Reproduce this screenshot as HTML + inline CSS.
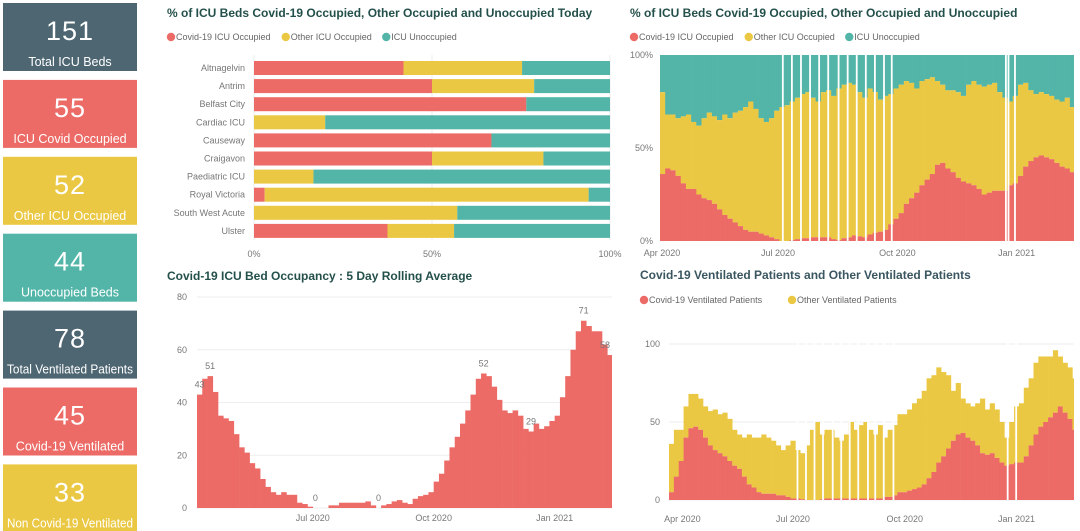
<!DOCTYPE html>
<html><head><meta charset="utf-8">
<style>
html,body{margin:0;padding:0;background:#fff;}
svg{display:block;font-family:"Liberation Sans",sans-serif;}
.t{font-weight:bold;font-size:12px;fill:#24504b;}
.lg{font-size:9px;fill:#666;}
.ax{font-size:9px;fill:#777;}
</style></head>
<body>
<svg id="s" width="1080" height="531" viewBox="0 0 1080 531">
<g id="kpis"></g>
<g id="c1"></g>
<g id="c2"></g>
<g id="c3"></g>
<g id="c4"></g>
</svg>
<script>
const RED="#ec6b66",YEL="#ebc843",TEAL="#52b5a8",SLATE="#4e6672";
// KPI data
const kpiValues=[151,55,52,44,78,45,33];
const kpiLabels=["Total ICU Beds","ICU Covid Occupied","Other ICU Occupied","Unoccupied Beds","Total Ventilated Patients","Covid-19 Ventilated","Non Covid-19 Ventilated"];
const kpiColors=[SLATE,RED,YEL,TEAL,SLATE,RED,YEL];
// Chart 1 data
const hospitals=["Altnagelvin","Antrim","Belfast City","Cardiac ICU","Causeway","Craigavon","Paediatric ICU","Royal Victoria","South West Acute","Ulster"];
const todayCovidPct=[42,50,76.5,0,66.7,50,0,3,0,37.5];
const todayOtherPct=[33.3,28.7,0,20,0,31.3,16.7,91,57.1,18.7];
const pctTicks=["0%","50%","100%"];
// Chart 2 data (4-day steps from Apr 1 2020)
const pctCovid=[36,39,38,35,31,28,28,25,23,22,20,17,14,12,10,8,6,5,5,4,3,2,1,0,0,0.5,1,1.5,1.5,2,2,2,2,1,0.5,1.5,2,3,2.5,2,3.5,4.5,5,6,9,12,15,20,23,26,30,33,36,41,42,39,37,34,32,31,30,28,25,26,27,27,27,30,31,35,40,43,45,46,45,44,42,40,39,37];
const pctOther=[44,29,30,31,36,40,36,37,43,47,47,48,54,54,59,62,66,70,66,62,61,64,69,72,73,74.5,76,77.5,78.5,75,73,78,79,77,81.5,82.5,83,81,77.5,75,78.5,75.5,71,72,70,70,69,66,62,56,56,54,52,45,42,42,44,46,46,53,56,56,58,58,58,53,50,45,47,49,45,38,34,34,34,34,34,35,38,35];
const pctGapDays=[94,101,108,115,122,129,137,144,151,158,165,172,178,266,268,273];
// Chart 3 data (4-day steps)
const rollingAvg=[43,49,50,44,35,34,33,28,23,21,17,15,11,8,6,5,6,5,5,2,1.5,0.5,0,0,0,1,1,2,2,2,2,2,2.5,1,0,1,1.5,2.5,3,2,1.5,3.5,4.5,5,6,10,13,18,23,27,32,37,43,49,51,50,46,41,37,36,37,35,30,29,32,30,31,33,35,42,50,60,67,71,69,67,67,62,58];
const rollingLabelIdx=[0,2,22,34,54,63,73,78];
const rollingLabelText=["43","51","0","0","52","29","71","58"];
const rollTicks=[0,20,40,60,80];
// Chart 4 data (4-day steps from Mar 21 2020)
const ventCovid=[5,15,25,40,46,47,45,40,35,32,30,28,25,22,20,15,10,8,5,4,4,4,3,3,2,1,1,0.5,0,0,0,0.5,1,1,1,1,1,1,1,1,1,1,1,1,2,2,3,5,5,6,7,8,10,14,18,24,28,33,38,42,43,40,38,35,30,29,30,27,24,22,23,24,24,28,35,42,47,50,53,56,60,56,52,45];
const ventOther=[31,30,20,20,22,21,20,20,22,26,25,28,27,23,22,25,32,32,35,38,36,34,32,29,33,37,31,29.5,35,45,50,41.5,44,44,39,37,41,49,44,47,49,44,41,47,38,43,45,50,50,52,55,57,60,64,62,61,54,47,32,33,22,22,22,27,35,29,32,31,26,18,27,36,38,44,43,46,45,42,39,40,32,32,33,33];
const ventGapDays=[105,112,119,126,134,141,148,155,163,169,176,184,278,285];
const ventTicks=[0,50,100];
const monthLabels=["Apr 2020","Jul 2020","Oct 2020","Jan 2021"];

const NS="http://www.w3.org/2000/svg";
function mk(parent,tag,attrs,name){const e=document.createElementNS(NS,tag);for(const k in attrs)e.setAttribute(k,attrs[k]);


parent.appendChild(e);return e;}
function txt(parent,x,y,s,cls,name,anchor){const e=mk(parent,'text',{x:x,y:y,class:cls,'text-anchor':anchor||'start'},name);e.textContent=s;return e;}
function legend(g,x,y,items,colors,prefix){let cx=x;items.forEach((it,i)=>{
 mk(g,'circle',{cx:cx+4,cy:y-3,r:4.2,fill:colors[i]},prefix+'-legend-dot');
 const t=txt(g,cx+9,y,it,'lg',prefix+'-legend-entry');cx+=9+it.length*4.75+6;});}

// KPIs
const K=document.getElementById('kpis');
kpiValues.forEach((v,i)=>{const y=3+i*76.9;
 const c=mk(K,'g',{},'kpi-card-'+i);
 mk(c,'rect',{x:3,y:y,width:134,height:68,fill:kpiColors[i]},'kpi-background');
 const n=txt(c,70,y+37,String(v),'','kpi-value','middle');n.setAttribute('style','font-size:27px;fill:#fff;letter-spacing:1px');
 const l=txt(c,70,y+63,kpiLabels[i],'','kpi-label','middle');l.setAttribute('style','font-size:12.5px;fill:#fff');
 const est=kpiLabels[i].length*6.6;
 if(est>126){l.setAttribute('textLength','126');l.setAttribute('lengthAdjust','spacingAndGlyphs');}
});

// Chart 1
(function(){const g=document.getElementById('c1');
 txt(g,167,17,"% of ICU Beds Covid-19 Occupied, Other Occupied and Unoccupied Today",'t','chart1-title');
 legend(g,167,40,["Covid-19 ICU Occupied","Other ICU Occupied","ICU Unoccupied"],[RED,YEL,TEAL],'chart1');
 const x0=254,x1=610,sx=p=>x0+(x1-x0)*p/100;
 pctTicks.forEach((t,i)=>{const x=sx(i*50);mk(g,'line',{x1:x,x2:x,y1:55,y2:240,stroke:'#eee'},'x-gridline');
  txt(g,x,257,t,'ax','x-tick-label','middle');});
 hospitals.forEach((h,i)=>{const cy=68+i*18.1,y=cy-7,hh=14;
  txt(g,245,cy+3,h,'ax','hospital-label','end');
  const a=todayCovidPct[i],b=todayOtherPct[i];
  mk(g,'rect',{x:sx(0),y:y,width:sx(a)-sx(0),height:hh,fill:RED},'bar-covid-'+i);
  mk(g,'rect',{x:sx(a),y:y,width:sx(a+b)-sx(a),height:hh,fill:YEL},'bar-other-'+i);
  mk(g,'rect',{x:sx(a+b),y:y,width:sx(100)-sx(a+b),height:hh,fill:TEAL},'bar-unoccupied-'+i);
 });})();

function stepBars(g,n,sx,step,drawFn){for(let i=0;i<n;i++){const xa=sx(i*step),xb=sx((i+1)*step);drawFn(i,xa,Math.max(0.1,xb-xa+0.3));}}

// Chart 2
(function(){const g=document.getElementById('c2');
 txt(g,630,17,"% of ICU Beds Covid-19 Occupied, Other Occupied and Unoccupied",'t','chart2-title');
 legend(g,630,40,["Covid-19 ICU Occupied","Other ICU Occupied","ICU Unoccupied"],[RED,YEL,TEAL],'chart2');
 const X0=660,X1=1074,ppd=1.297;const sx=d=>Math.min(X1,X0+d*ppd);
 const Y0=241,Y1=55,sy=p=>Y0-(Y0-Y1)*p/100;
 [["0%",0],["50%",50],["100%",100]].forEach(t=>{txt(g,653,sy(t[1])+3,t[0],'ax','y-tick-label','end');});
 stepBars(g,pctCovid.length,sx,4,(i,x,w)=>{if(x>=X1)return;w=Math.min(w,X1-x);
  const c=pctCovid[i],o=pctOther[i];
  mk(g,'rect',{x:x,y:sy(100),width:w,height:sy(c+o)-sy(100),fill:TEAL},'pct-unoccupied-bar');
  mk(g,'rect',{x:x,y:sy(c+o),width:w,height:sy(c)-sy(c+o),fill:YEL},'pct-other-bar');
  mk(g,'rect',{x:x,y:sy(c),width:w,height:sy(0)-sy(c),fill:RED},'pct-covid-bar');});
 pctGapDays.forEach(d=>mk(g,'rect',{x:sx(d),y:Y1,width:1.8,height:Y0-Y1,fill:'#fff'},'missing-day-gap'));
 [0,91,183,275].forEach((d,i)=>txt(g,sx(d)+(i==0?2:0),256,monthLabels[i],'ax','x-tick-label','middle'));
})();

// Chart 3
(function(){const g=document.getElementById('c3');
 txt(g,167,280,"Covid-19 ICU Bed Occupancy : 5 Day Rolling Average",'t','chart3-title');
 const X0=197,ppd=1.315,sx=d=>X0+d*ppd;const Y0=508,sy=v=>Y0-v*(211/80);
 rollTicks.forEach(t=>{mk(g,'line',{x1:197,x2:612,y1:sy(t),y2:sy(t),stroke:'#eee'},'y-gridline');
  txt(g,187,sy(t)+3,String(t),'ax','y-tick-label','end');});
 stepBars(g,rollingAvg.length,sx,4,(i,x,w)=>{mk(g,'rect',{x:x,y:sy(rollingAvg[i]),width:Math.min(w,612-x),height:sy(0)-sy(rollingAvg[i]),fill:RED},'rolling-bar');});
 rollingLabelIdx.forEach((idx,k)=>{const x=sx(idx*4+2);txt(g,Math.min(x,605),sy(rollingAvg[idx])-7,rollingLabelText[k],'ax','data-label','middle');});
 [88,180,272].forEach((d,i)=>txt(g,sx(d),521,monthLabels[i+1],'ax','x-tick-label','middle'));
})();

// Chart 4
(function(){const g=document.getElementById('c4');
 const tt=txt(g,640,279,"Covid-19 Ventilated Patients and Other Ventilated Patients",'t','chart4-title');tt.setAttribute('style','fill:#3a5660');
 legend(g,640,303,["Covid-19 Ventilated Patients","Other Ventilated Patients"],[RED,YEL],'chart4');
 const X0=669,X1=1074,ppd=1.215,sx=d=>X0+d*ppd;const Y0=500,sy=v=>Y0-v*1.56;
 ventTicks.forEach(t=>{mk(g,'line',{x1:669,x2:1074,y1:sy(t),y2:sy(t),stroke:'#eee'},'y-gridline');
  txt(g,660,sy(t)+3,String(t),'ax','y-tick-label','end');});
 stepBars(g,ventCovid.length,sx,4,(i,x,w)=>{if(x>=X1)return;w=Math.min(w,X1-x);const c=ventCovid[i],o=ventOther[i];
  mk(g,'rect',{x:x,y:sy(c+o),width:w,height:sy(c)-sy(c+o),fill:YEL},'vent-other-bar');
  mk(g,'rect',{x:x,y:sy(c),width:w,height:sy(0)-sy(c),fill:RED},'vent-covid-bar');});
 ventGapDays.forEach(d=>mk(g,'rect',{x:sx(d),y:330,width:1.8,height:Y0-330,fill:'#fff'},'missing-day-gap'));
 [11,102,194,286].forEach((d,i)=>txt(g,sx(d),522,monthLabels[i],'ax','x-tick-label','middle'));
})();
</script>
</body></html>
